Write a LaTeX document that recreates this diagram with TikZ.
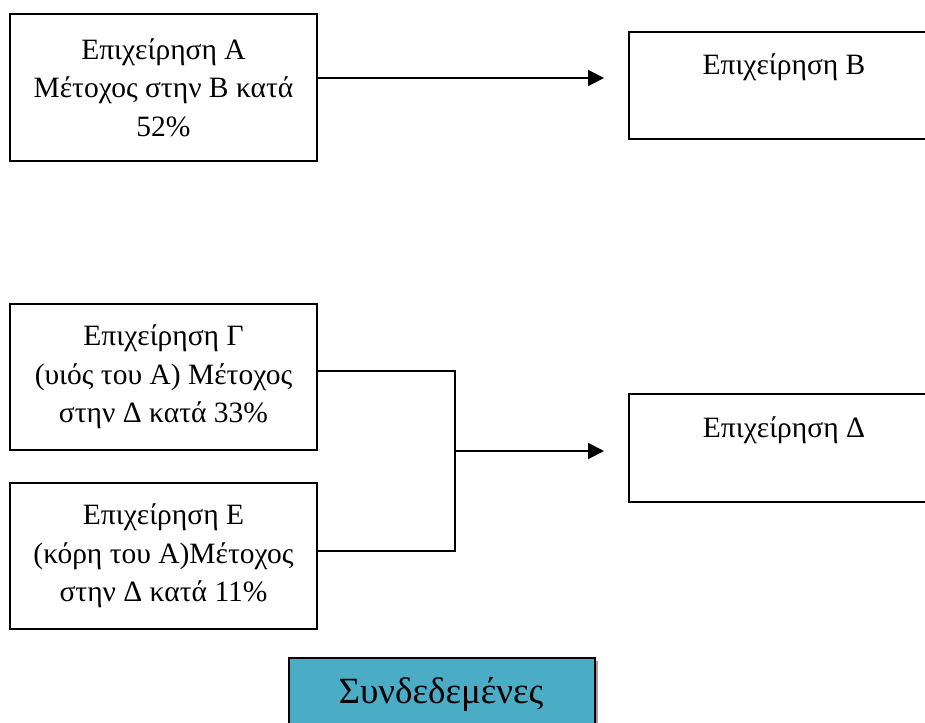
\documentclass[tikz,border=0pt]{standalone}
\usepackage{fontspec}
\setmainfont{Liberation Serif}
\usetikzlibrary{arrows.meta}
\definecolor{boxteal}{HTML}{4BACC6}
\begin{document}
\begin{tikzpicture}[x=1pt,y=-1pt,
  firm/.style={draw=black,line width=2pt,rectangle,inner sep=0pt,align=center,
    font=\fontsize{29.5}{38.5}\selectfont},
  link/.style={line width=2pt},
  arr/.style={line width=2pt,-{Triangle[length=16pt,width=16pt]}}]
\clip (0,0) rectangle (925,722);
\fill[white] (0,0) rectangle (925,722);

% companies on the left
\node[firm,minimum width=307pt,minimum height=147pt] (a) at (163.5,87.5)
  {Επιχείρηση Α\\Μέτοχος στην Β κατά\\52\%};
\node[firm,minimum width=307pt,minimum height=146pt] (g) at (163.5,377)
  {Επιχείρηση Γ\\(υιός του Α) Μέτοχος\\στην Δ κατά 33\%};
\node[firm,minimum width=307pt,minimum height=146pt] (e) at (163.5,556)
  {Επιχείρηση Ε\\(κόρη του Α)Μέτοχος\\στην Δ κατά 11\%};

% companies on the right
\node[firm,minimum width=310pt,minimum height=107pt,anchor=north west] (b) at (628,31)
  {Επιχείρηση Β\\[4pt]\mbox{}};
\node[firm,minimum width=310pt,minimum height=108pt,anchor=north west] (d) at (628,393)
  {Επιχείρηση Δ\\[4pt]\mbox{}};

% summary box with its shadow
\fill[gray!75] (292,661) rectangle (598,730);
\node[draw=black,line width=2pt,fill=boxteal,minimum width=306pt,minimum height=80pt,
  anchor=north west,inner sep=0pt] (s) at (288,657) {};
\node[font=\fontsize{37}{42}\selectfont] (st) at (441,694) {Συνδεδεμένες};

% connectors
\coordinate (bA) at (604,78);
\draw[arr] (a.east |- bA) -- (bA);
\coordinate (j) at (455,451);
\coordinate (bD) at (604,451);
\draw[link] (317,371) coordinate (gout) -| (j);
\draw[link] (317,551) coordinate (eout) -| (j);
\draw[arr] (j) -- (bD);
\end{tikzpicture}
\end{document}
